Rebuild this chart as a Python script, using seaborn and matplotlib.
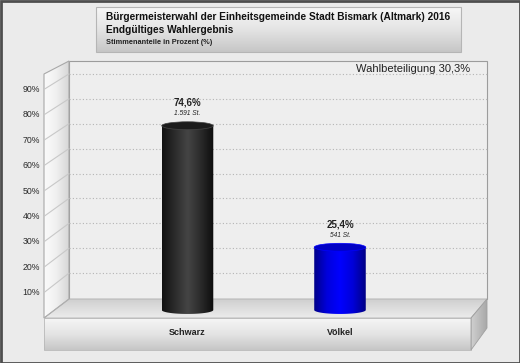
import numpy as np
import pandas as pd
import matplotlib
matplotlib.use('Agg')
import matplotlib.pyplot as plt
from matplotlib.patches import Rectangle, Polygon, Ellipse, PathPatch
from matplotlib.path import Path
from matplotlib.colors import LinearSegmentedColormap
import seaborn as sns

# daten
kandidaten = ['Schwarz', 'Völkel']
prozent = [74.6, 25.4]
stimmen = ['1.591 St.', '541 St.']
farben = ['#2a2a2a', '#0000ee']
verlaeufe = [['#121212', '#2c2c2c', '#454545', '#2a2a2a', '#0c0c0c'],
             ['#000088', '#0000dc', '#0000ff', '#0000d8', '#000084']]
deckel = ['#1c1c1c', '#0000c4']
ticks = [10, 20, 30, 40, 50, 60, 70, 80, 90]
beteiligung = 'Wahlbeteiligung 30,3%'
titel = ['Bürgermeisterwahl der Einheitsgemeinde Stadt Bismark (Altmark) 2016',
         'Endgültiges Wahlergebnis',
         'Stimmenanteile in Prozent (%)']

sns.set_style('white')
plt.rcParams['font.family'] = ['Liberation Sans', 'DejaVu Sans']

W, H = 520, 363
fig = plt.figure(figsize=(W / 100, H / 100), dpi=100, facecolor='#ebebeb')

# hintergrund in pixelkoordinaten
bg = fig.add_axes([0, 0, 1, 1])
bg.axis('off')


def verlauf(ax, x0, x1, y0, y1, cols, richtung='v', clip=None, z=1):
    cmap = LinearSegmentedColormap.from_list('v', cols)
    g = np.linspace(0, 1, 256)
    arr = g[:, None] if richtung == 'v' else g[None, :]
    im = ax.imshow(arr, cmap=cmap, extent=(x0, x1, y1, y0), aspect='auto',
                   zorder=z, interpolation='bilinear')
    if clip is not None:
        im.set_clip_path(clip)
    return im


# titelbox
verlauf(bg, 96, 461, 7, 52, ['#f7f7f7', '#e4e4e4', '#c6c6c6'], z=1)
bg.add_patch(Rectangle((96, 7), 365, 45, fc='none', ec='#b5b5b5', lw=0.8, zorder=2))

# rueckwand
bg.add_patch(Rectangle((69, 61), 418, 238, fc='#eeeeee', ec='#9c9c9c', lw=0.8, zorder=1))

# linke wand
lw_poly = Polygon([(44, 74), (69, 61), (69, 299), (44, 318)], closed=True,
                  fc='none', ec='#a8a8a8', lw=0.8, zorder=3)
bg.add_patch(lw_poly)
verlauf(bg, 44, 69, 61, 318, ['#fbfbfb', '#f0f0f0', '#d6d6d6'], 'h', clip=lw_poly, z=2)

# boden oben
boden = Polygon([(44, 318), (69, 299), (487, 299), (471, 318)], closed=True,
                fc='none', ec='#b0b0b0', lw=0.6, zorder=3)
bg.add_patch(boden)
verlauf(bg, 44, 487, 299, 318, ['#cfcfcf', '#dedede', '#ececec'], 'v', clip=boden, z=2)

# boden vorne
front = Rectangle((44, 318), 427, 32, fc='none', ec='#b8b8b8', lw=0.6, zorder=3)
bg.add_patch(front)
verlauf(bg, 44, 471, 318, 350, ['#f6f6f6', '#e4e4e4', '#c6c6c6'], 'v', clip=front, z=2)

# boden rechts
seite = Polygon([(471, 318), (487, 299), (487, 328), (471, 350)], closed=True,
                fc='none', ec='#a0a0a0', lw=0.6, zorder=3)
bg.add_patch(seite)
verlauf(bg, 471, 487, 299, 350, ['#d0d0d0', '#a8a8a8'], 'h', clip=seite, z=2)

# gitterlinien
for v in ticks:
    yb = 298 - 2.49 * v
    yf = 318 - 2.54 * v
    bg.plot([69, 487], [yb, yb], color='#b4b4b4', lw=0.8, ls=(0, (1, 2)), zorder=2)
    bg.plot([44, 69], [yf, yb], color='#c8c8c8', lw=0.8, zorder=3)
    bg.text(40, yf, f'{v}%', ha='right', va='center', fontsize=6.3, color='#2a2a2a')

bg.text(470, 69, beteiligung, ha='right', va='center', fontsize=8, color='#222222')

# titel
bg.text(106, 17, titel[0], ha='left', va='center', fontsize=7.25, fontweight='bold', color='#111111')
bg.text(106, 30, titel[1], ha='left', va='center', fontsize=7.25, fontweight='bold', color='#111111')
bg.text(106, 43, titel[2], ha='left', va='center', fontsize=5.3, fontweight='bold', color='#222222')

# rahmen
bg.add_patch(Rectangle((0.5, 0.5), W - 1, H - 1, fc='none', ec='#4e4e4e', lw=2, zorder=5))
bg.set_xlim(0, W)
bg.set_ylim(H, 0)

# saeulen
sk = 2.47      # pixel je prozent
y_unten = -4   # platz fuer die untere ellipse
df = pd.DataFrame({'Kandidat': kandidaten, 'Prozent': prozent})
ax = fig.add_axes([44 / W, (H - 310 + y_unten * sk) / H, (487 - 44) / W, (310 - 61 - y_unten * sk) / H])
ax.patch.set_alpha(0)
sns.barplot(data=df, x='Kandidat', y='Prozent', hue='Kandidat', palette=farben,
            width=0.338, saturation=1, legend=False, ax=ax)
ax.axis('off')

eh = 3.2
for i, p in enumerate(ax.patches):
    x0, w, h = p.get_x(), p.get_width(), p.get_height()
    xc = x0 + w / 2
    t = np.linspace(np.pi, 2 * np.pi, 50)
    pts = [(x0, h), (x0, 0)] + list(zip(xc + w / 2 * np.cos(t), eh / 2 * np.sin(t))) + [(x0 + w, h), (x0, h)]
    cyl = PathPatch(Path(pts), fc='none', ec='none', transform=ax.transData)
    ax.add_patch(cyl)
    p.set_alpha(0)
    im = ax.imshow(np.linspace(0, 1, 256)[None, :],
                   cmap=LinearSegmentedColormap.from_list('c', verlaeufe[i]),
                   extent=(x0, x0 + w, -eh, h), aspect='auto', zorder=3,
                   interpolation='bilinear')
    im.set_clip_path(cyl)
    ax.add_patch(Ellipse((xc, h), w, eh, fc=deckel[i], ec=verlaeufe[i][2], lw=0.5, zorder=4))
    lbl = f'{prozent[i]:.1f}'.replace('.', ',') + '%'
    ax.text(xc, h + 9.3, lbl, ha='center', va='center', fontsize=7, fontweight='bold', color='#222222')
    ax.text(xc, h + 4.9, stimmen[i], ha='center', va='center', fontsize=4.8, fontstyle='italic', color='#222222')
    ax.text(i, -9.3, kandidaten[i], ha='center', va='center', fontsize=6.5, fontweight='bold', color='#222222')

ax.set_xlim(-0.941, 1.964)
ax.set_ylim(y_unten, 100.8)

fig.savefig('out.png', dpi=100, facecolor=fig.get_facecolor())
